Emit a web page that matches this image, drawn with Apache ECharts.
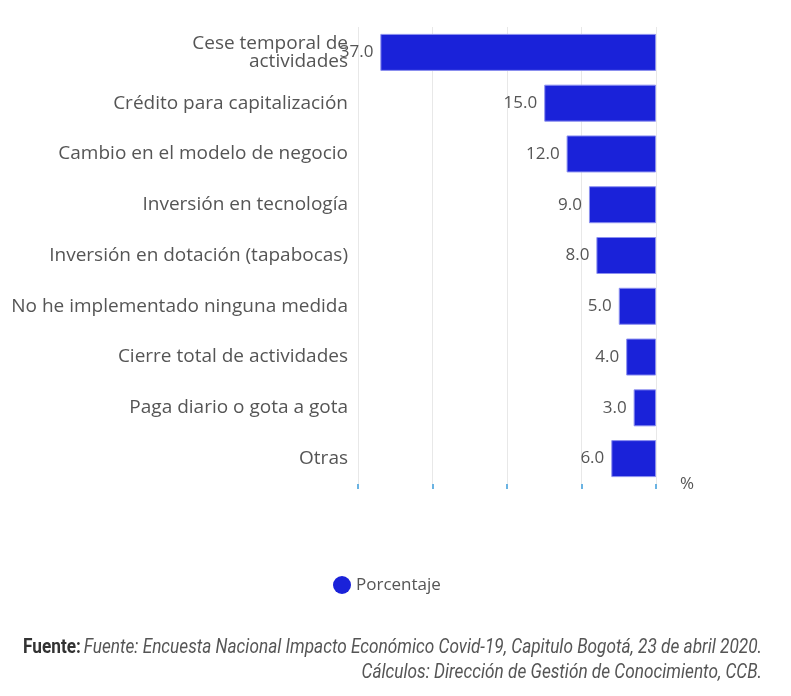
<!DOCTYPE html>
<html>
<head>
<meta charset="utf-8">
<script src="https://cdn.jsdelivr.net/npm/echarts@6/dist/echarts.min.js"></script>
<style>
  html, body { margin: 0; padding: 0; background: #fff; }
  #main { width: 791px; height: 696px; }
</style>
</head>
<body>
<div id="main"></div>
<script>
// categorias y valores (%)
var categorias = [
  'Cese temporal de\nactividades',
  'Crédito para capitalización',
  'Cambio en el modelo de negocio',
  'Inversión en tecnología',
  'Inversión en dotación (tapabocas)',
  'No he implementado ninguna medida',
  'Cierre total de actividades',
  'Paga diario o gota a gota',
  'Otras'
];
var porcentaje = [37, 15, 12, 9, 8, 5, 4, 3, 6];

var chart = echarts.init(document.getElementById('main'));
chart.setOption({
  textStyle: { fontFamily: 'Open Sans' },
  grid: { left: 358, right: 135, top: 27, height: 457 },
  legend: {
    top: 571,
    left: 328,
    icon: 'circle',
    itemWidth: 18,
    itemHeight: 18,
    itemGap: 6,
    itemStyle: { borderWidth: 0 },
    textStyle: { fontSize: 17, color: '#555' },
    data: ['Porcentaje']
  },
  xAxis: {
    type: 'value',
    inverse: true,
    min: 0,
    max: 40,
    interval: 10,
    name: '%',
    nameLocation: 'start',
    nameGap: 24,
    nameTextStyle: { fontSize: 17, color: '#555' },
    axisLine: { show: false },
    axisTick: { show: true, length: 5, lineStyle: { color: '#3a9ad9', width: 1.5 } },
    axisLabel: { show: false },
    splitLine: { show: true, lineStyle: { color: '#e8e8e8' } }
  },
  yAxis: {
    type: 'category',
    inverse: true,
    data: categorias,
    axisLine: { show: false },
    axisTick: { show: false },
    axisLabel: { fontSize: 19, color: '#555', margin: 10, lineHeight: 18 }
  },
  series: [{
    name: 'Porcentaje',
    type: 'bar',
    data: porcentaje,
    barWidth: 37,
    itemStyle: { color: '#1a22d9', borderColor: '#8c90f0', borderWidth: 1 },
    label: {
      show: true,
      position: 'left',
      distance: 7,
      fontSize: 17,
      color: '#555',
      formatter: function (p) { return p.value.toFixed(1); }
    }
  }],
  graphic: [
    {
      type: 'text', x: 762, y: 648, scaleX: 0.82,
      style: {
        textAlign: 'right', textVerticalAlign: 'middle',
        rich: {
          b: { fontFamily: 'Roboto', fontWeight: 'bold', fontSize: 21, fill: '#333' },
          i: { fontFamily: 'Roboto', fontStyle: 'italic', fontSize: 21, fill: '#555' }
        },
        text: '{b|Fuente:} {i|Fuente: Encuesta Nacional Impacto Económico Covid-19, Capitulo Bogotá, 23 de abril 2020.}'
      }
    },
    {
      type: 'text', x: 762, y: 673, scaleX: 0.82,
      style: {
        textAlign: 'right', textVerticalAlign: 'middle',
        text: 'Cálculos: Dirección de Gestión de Conocimiento, CCB.',
        fontFamily: 'Roboto', fontStyle: 'italic', fontSize: 21, fill: '#555'
      }
    }
  ]
});
</script>
</body>
</html>
